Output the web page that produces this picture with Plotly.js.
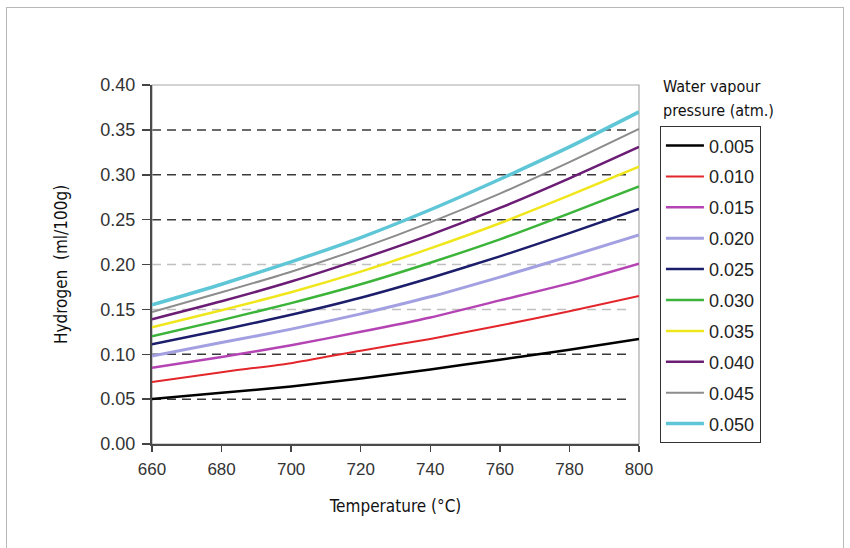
<!DOCTYPE html>
<html>
<head>
<meta charset="utf-8">
<script src="https://cdn.plot.ly/plotly-3.0.1.min.js"></script>
<style>
  html, body { margin: 0; padding: 0; background: #fff; }
  #wrap { position: relative; width: 850px; height: 548px; overflow: hidden; }
  #chart { width: 850px; height: 548px; }
  #frame { position: absolute; left: 6px; top: 7px; width: 836px; height: 600px;
           border: 1px solid #b8b8b8; pointer-events: none; }
</style>
</head>
<body>
<div id="wrap">
  <div id="chart"></div>
  <div id="frame"></div>
</div>
<script>
// Temperature (°C)
const temperature = [660, 680, 700, 720, 740, 760, 780, 800];

// Series names: water vapour pressure (atm.)
const pressures = ['0.005', '0.010', '0.015', '0.020', '0.025', '0.030', '0.035', '0.040', '0.045', '0.050'];

// Hydrogen (ml/100g) per series
const h0005 = [0.050, 0.057, 0.064, 0.073, 0.083, 0.094, 0.105, 0.117];
const h0010 = [0.069, 0.080, 0.090, 0.104, 0.117, 0.132, 0.148, 0.165];
const h0015 = [0.085, 0.097, 0.110, 0.125, 0.141, 0.160, 0.179, 0.201];
const h0020 = [0.098, 0.113, 0.128, 0.145, 0.164, 0.186, 0.209, 0.233];
const h0025 = [0.111, 0.127, 0.144, 0.163, 0.185, 0.209, 0.235, 0.262];
const h0030 = [0.120, 0.138, 0.157, 0.178, 0.202, 0.228, 0.257, 0.287];
const h0035 = [0.130, 0.149, 0.169, 0.192, 0.218, 0.246, 0.277, 0.309];
const h0040 = [0.139, 0.159, 0.181, 0.206, 0.233, 0.263, 0.296, 0.331];
const h0045 = [0.147, 0.169, 0.192, 0.218, 0.247, 0.279, 0.314, 0.351];
const h0050 = [0.155, 0.178, 0.203, 0.230, 0.261, 0.295, 0.331, 0.370];

const seriesValues = [h0005, h0010, h0015, h0020, h0025, h0030, h0035, h0040, h0045, h0050];

// Tick values
const xTicks = [660, 680, 700, 720, 740, 760, 780, 800];
const yTicks = [0.00, 0.05, 0.10, 0.15, 0.20, 0.25, 0.30, 0.35, 0.40];
const yTickLabels = ['0.00', '0.05', '0.10', '0.15', '0.20', '0.25', '0.30', '0.35', '0.40'];

// Reference grid levels (dark and light dashed)
const gridDark = [0.05, 0.10, 0.25, 0.30, 0.35];
const gridLight = [0.15, 0.20];

// Styles
const colors = ['#000000', '#e3262b', '#b444b4', '#a3a0e2', '#1c1d6b', '#3cb43a', '#f0e61c', '#6b1c74', '#8c8c8c', '#5ec6d6'];
const widths = [2.5, 2, 2.5, 3, 2.5, 2.5, 2.5, 2.5, 2, 3.5];

const traces = seriesValues.map((vals, i) => ({
  type: 'scatter',
  mode: 'lines',
  x: temperature,
  y: vals,
  name: pressures[i],
  legendgroup: 'g' + i,
  line: { color: colors[i], width: widths[i], shape: 'spline', smoothing: 0.6 }
}));

const shapes = [];
gridDark.forEach(v => shapes.push({
  type: 'line', xref: 'paper', yref: 'y', x0: 0, x1: 0.982, y0: v, y1: v,
  layer: 'below', line: { color: '#3a3a3a', width: 1.5, dash: '9px,6px' }
}));
gridLight.forEach(v => shapes.push({
  type: 'line', xref: 'paper', yref: 'y', x0: 0, x1: 0.982, y0: v, y1: v,
  layer: 'below', line: { color: '#c0c0c0', width: 1.5, dash: '9px,6px' }
}));
// light frame (top/right)
shapes.push({
  type: 'rect', xref: 'paper', yref: 'paper', x0: 0, x1: 1, y0: 0, y1: 1,
  layer: 'below', line: { color: '#a8a8a8', width: 1.2 }
});

const xTickFont = { family: 'Liberation Sans, Arial, sans-serif', size: 17, color: '#333' };
const yTickFont = { family: 'Liberation Sans, Arial, sans-serif', size: 18, color: '#333' };
const condFont = { family: 'DejaVu Sans Condensed, Open Sans, sans-serif', size: 17, color: '#111' };
const legTitleFont = { family: 'DejaVu Sans Condensed, Open Sans, sans-serif', size: 16, color: '#111' };

const layout = {
  width: 850, height: 548,
  margin: { l: 152, r: 211, t: 85, b: 104, pad: 0 },
  paper_bgcolor: '#ffffff',
  plot_bgcolor: '#ffffff',
  showlegend: true,
  xaxis: {
    range: [660, 800],
    tickvals: xTicks,
    ticktext: xTicks.map(String),
    ticks: 'outside', ticklen: 6, tickwidth: 1.5, tickcolor: '#444',
    ticklabelstandoff: 3,
    showgrid: false, zeroline: false,
    showline: true, linecolor: '#4a4a4a', linewidth: 2,
    tickfont: xTickFont,
    title: { text: 'Temperature (°C)', font: condFont, standoff: 22 }
  },
  yaxis: {
    range: [0, 0.40],
    tickvals: yTicks,
    ticktext: yTickLabels,
    ticks: 'outside', ticklen: 8, tickwidth: 1.5, tickcolor: '#444',
    ticklabelstandoff: 3,
    showgrid: false, zeroline: false,
    showline: true, linecolor: '#4a4a4a', linewidth: 2,
    tickfont: yTickFont,
    title: { text: 'Hydrogen  (ml/100g)', font: condFont, standoff: 28 }
  },
  legend: {
    x: 1.043, xanchor: 'left',
    y: 0.885, yanchor: 'top',
    bordercolor: '#333', borderwidth: 1,
    bgcolor: '#fff',
    font: { family: 'Liberation Sans, Arial, sans-serif', size: 18, color: '#222' },
    traceorder: 'grouped',
    tracegroupgap: 4.5,
    itemwidth: 38
  },
  shapes: shapes,
  annotations: [{
    xref: 'paper', yref: 'paper', x: 1.0455, y: 0.997, xanchor: 'left', yanchor: 'middle',
    align: 'left', showarrow: false,
    text: 'Water vapour', font: legTitleFont
  }, {
    xref: 'paper', yref: 'paper', x: 1.0455, y: 0.928, xanchor: 'left', yanchor: 'middle',
    align: 'left', showarrow: false,
    text: 'pressure (atm.)', font: legTitleFont
  }]
};

Plotly.newPlot('chart', traces, layout, { displayModeBar: false, staticPlot: true });
</script>
</body>
</html>
